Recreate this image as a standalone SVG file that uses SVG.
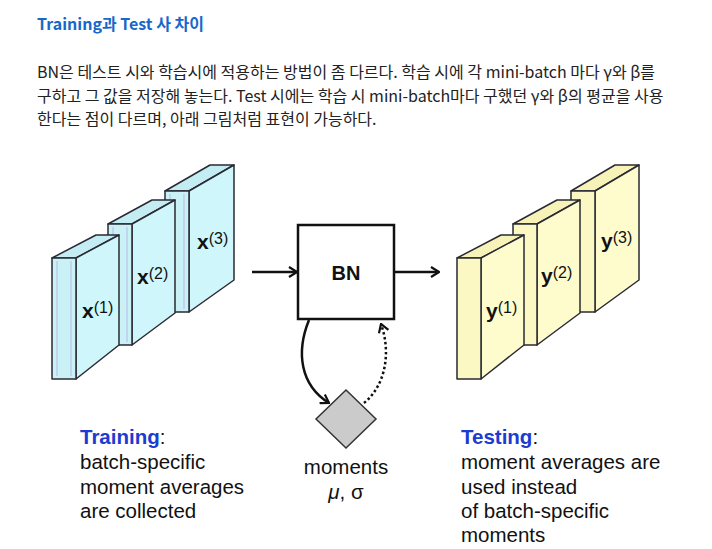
<svg xmlns="http://www.w3.org/2000/svg" width="712" height="549" viewBox="0 0 712 549">
<defs>
<style>
.kr{font-family:"Noto Sans CJK KR","Noto Sans",sans-serif;}
.hd{font-size:16px;font-weight:bold;fill:#1768c9;}
.p{font-size:16px;fill:#222;}
.lat{font-family:"Liberation Sans",Arial,sans-serif;}
.face{stroke:#2a2a33;stroke-width:1.5;stroke-linejoin:round;}
.bf{fill:#c9f1f6;}
.bt{fill:#c4ecf3;}
.br{fill:#cff6fa;}
.yf{fill:#fbf8c4;}
.yt{fill:#f7f3b8;}
.yr{fill:#fefccc;}
.stripe{stroke:#b9b9ec;stroke-width:1;fill:none;}
.lbl{font-size:21px;font-weight:bold;fill:#111;}
.sup{font-size:16px;font-weight:normal;}
.conn{fill:none;stroke:#111;stroke-width:2.5;}
.txt{font-size:20.5px;fill:#111;}
.blue{fill:#1c3bd1;font-weight:bold;}
</style>
<marker id="ah" viewBox="0 0 10 12" refX="9" refY="6" markerWidth="10" markerHeight="12" markerUnits="userSpaceOnUse" orient="auto">
<path d="M1,1 L9,6 L1,11" fill="none" stroke="#111" stroke-width="2.2" stroke-linejoin="miter"/>
</marker>
</defs>
<rect width="712" height="549" fill="#fff"/>

<g id="header">
<text class="kr hd" x="37" y="30">Training과 Test 사 차이</text>
<text class="kr p" x="37" y="78">BN은 테스트 시와 학습시에 적용하는 방법이 좀 다르다. 학습 시에 각 mini-batch 마다 γ와 β를</text>
<text class="kr p" x="37" y="102">구하고 그 값을 저장해 놓는다. Test 시에는 학습 시 mini-batch마다 구했던 γ와 β의 평균을 사용</text>
<text class="kr p" x="37" y="125">한다는 점이 다르며, 아래 그림처럼 표현이 가능하다.</text>
</g>

<g id="x3" transform="translate(165,191)">
<polygon class="face bt" points="0,0 45,-26 69,-26 24,0"/>
<polygon class="face br" points="24,0 69,-26 69,89 24,121"/>
<rect class="face bf" x="0" y="0" width="24" height="121"/>
<path class="stripe" d="M5,3 V118 M19,3 V118"/>
<text class="lat lbl" x="32" y="58">x<tspan class="sup" dy="-5">(3)</tspan></text>
</g>
<g id="x2" transform="translate(108,224)">
<polygon class="face bt" points="0,0 44,-24 67,-24 24,0"/>
<polygon class="face br" points="24,0 67,-24 67,89 24,121"/>
<rect class="face bf" x="0" y="0" width="24" height="121"/>
<path class="stripe" d="M5,3 V118 M19,3 V118"/>
<text class="lat lbl" x="29" y="60">x<tspan class="sup" dy="-5">(2)</tspan></text>
</g>
<g id="x1" transform="translate(52,258)">
<polygon class="face bt" points="0,0 44,-23 67,-23 24,0"/>
<polygon class="face br" points="24,0 67,-23 67,87 24,121"/>
<rect class="face bf" x="0" y="0" width="24" height="121"/>
<path class="stripe" d="M5,3 V118 M19,3 V118"/>
<text class="lat lbl" x="30" y="60">x<tspan class="sup" dy="-5">(1)</tspan></text>
</g>

<g id="y3" transform="translate(571,191)">
<polygon class="face yt" points="0,0 44,-26 68,-26 24,0"/>
<polygon class="face yr" points="24,0 68,-26 68,89 24,121"/>
<rect class="face yf" x="0" y="0" width="24" height="121"/>
<text class="lat lbl" x="30" y="57">y<tspan class="sup" dy="-5">(3)</tspan></text>
</g>
<g id="y2" transform="translate(513,224)">
<polygon class="face yt" points="0,0 44,-24 67,-24 24,0"/>
<polygon class="face yr" points="24,0 67,-24 67,89 24,121"/>
<rect class="face yf" x="0" y="0" width="24" height="121"/>
<text class="lat lbl" x="28" y="59">y<tspan class="sup" dy="-5">(2)</tspan></text>
</g>
<g id="y1" transform="translate(457,258)">
<polygon class="face yt" points="0,0 44,-23 67,-23 24,0"/>
<polygon class="face yr" points="24,0 67,-23 67,87 24,121"/>
<rect class="face yf" x="0" y="0" width="24" height="121"/>
<text class="lat lbl" x="29" y="60">y<tspan class="sup" dy="-5">(1)</tspan></text>
</g>

<g id="bn">
<rect x="298" y="225" width="96" height="94" fill="#fff" stroke="#111" stroke-width="2.5"/>
<text class="lat" x="346" y="280" font-size="20" font-weight="bold" text-anchor="middle" fill="#111">BN</text>
</g>

<g id="moments">
<polygon points="346,390 376,419 346,448 316,419" fill="#cbcbcb" stroke="#333" stroke-width="1.5"/>
<text class="lat txt" x="346" y="474" text-anchor="middle">moments</text>
<text class="lat txt" x="346" y="499" text-anchor="middle"><tspan font-style="italic">μ</tspan>, σ</text>
</g>

<g id="connectors">
<line class="conn" x1="252" y1="272" x2="297" y2="272" marker-end="url(#ah)"/>
<line class="conn" x1="394" y1="272" x2="439" y2="272" marker-end="url(#ah)"/>
<path class="conn" d="M309,320 C296,352 300,385 329,403" marker-end="url(#ah)"/>
<path class="conn" d="M364,403 C384,387 392,355 381,324" stroke-dasharray="2.5,2.5" marker-end="url(#ah)"/>
</g>

<g id="training-text">
<text class="lat txt" x="80" y="444"><tspan class="blue">Training</tspan>:</text>
<text class="lat txt" x="80" y="469">batch-specific</text>
<text class="lat txt" x="80" y="494">moment averages</text>
<text class="lat txt" x="80" y="518">are collected</text>
</g>

<g id="testing-text">
<text class="lat txt" x="461" y="444"><tspan class="blue">Testing</tspan>:</text>
<text class="lat txt" x="461" y="469">moment averages are</text>
<text class="lat txt" x="461" y="494">used instead</text>
<text class="lat txt" x="461" y="518">of batch-specific</text>
<text class="lat txt" x="461" y="542">moments</text>
</g>
</svg>
